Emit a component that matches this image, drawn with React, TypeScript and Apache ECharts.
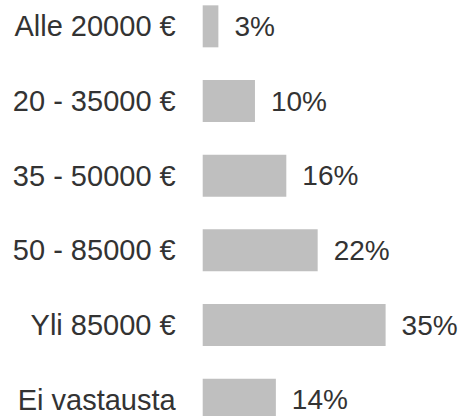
import React, { useEffect, useRef } from "react";
import * as echarts from "echarts";

const categories = ["Alle 20000 €", "20 - 35000 €", "35 - 50000 €", "50 - 85000 €", "Yli 85000 €", "Ei vastausta"];
const values = [3, 10, 16, 22, 35, 14];

export default function App() {
  const ref = useRef<HTMLDivElement>(null);
  useEffect(() => {
    if (!ref.current) return;
    const chart = echarts.init(ref.current, null, { renderer: "svg" });
    chart.setOption({
      animation: false,
      grid: { left: 202.7, right: 0, top: 0, bottom: 0, containLabel: false },
      xAxis: {
        type: "value",
        min: 0,
        max: 50,
        show: false,
      },
      yAxis: {
        type: "category",
        data: categories,
        inverse: true,
        axisLine: { show: false },
        axisTick: { show: false },
        splitLine: { show: false },
        axisLabel: {
          margin: 27,
          fontSize: 29,
          color: "#333333",
          fontFamily: "'Liberation Sans', Arial, sans-serif",
        },
      },
      series: [
        {
          type: "bar",
          data: values,
          barWidth: 42,
          itemStyle: { color: "#bfbfbf" },
          label: {
            show: true,
            position: "right",
            distance: 16,
            formatter: "{c}%",
            fontSize: 28,
            color: "#333333",
            fontFamily: "'Liberation Sans', Arial, sans-serif",
          },
        },
      ],
    });
    return () => chart.dispose();
  }, []);
  return (
    <div style={{ position: "fixed", left: 0, top: 0, width: 464, height: 416, overflow: "hidden", background: "#fff" }}>
      <div ref={ref} style={{ position: "absolute", left: 0, top: -11.4, width: 464, height: 448 }} />
    </div>
  );
}
